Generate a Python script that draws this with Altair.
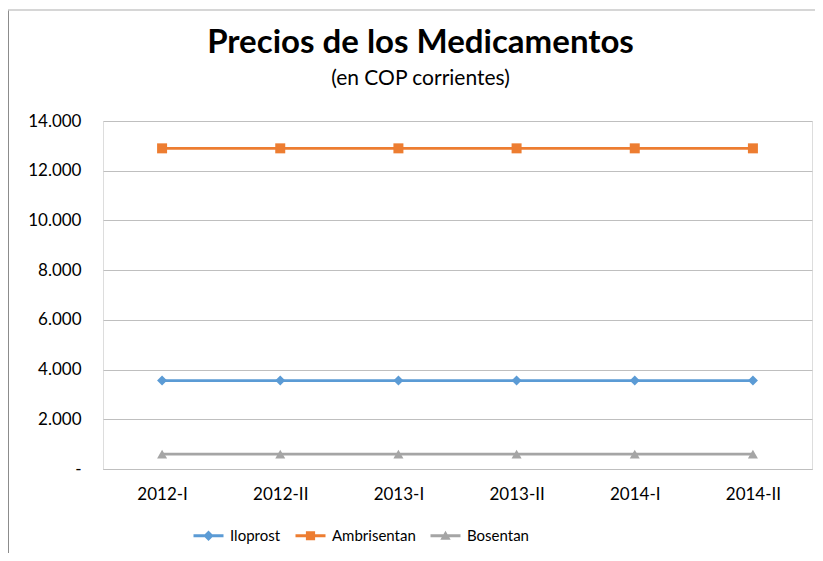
import altair as alt
import pandas as pd

periods = ["2012-I", "2012-II", "2013-I", "2013-II", "2014-I", "2014-II"]
series_names = ["Iloprost", "Ambrisentan", "Bosentan"]
iloprost = [3560, 3560, 3560, 3560, 3560, 3560]
ambrisentan = [12900, 12900, 12900, 12900, 12900, 12900]
bosentan = [600, 600, 600, 600, 600, 600]
colors = ["#5B9BD5", "#ED7D31", "#A5A5A5"]
marker_shapes = ["diamond", "square", "triangle-up"]
y_ticks = [0, 2000, 4000, 6000, 8000, 10000, 12000, 14000]

# legend symbols: line segment with marker (unit coords)
legend_paths = [
    "M-3.75,-0.35H3.75V0.35H-3.75Z M0,-1.3L1.3,0L0,1.3L-1.3,0Z",
    "M-3.75,-0.35H3.75V0.35H-3.75Z M-1.15,-1.15H1.15V1.15H-1.15Z",
    "M-3.75,-0.35H3.75V0.35H-3.75Z M0,-1.25L1.3,1.0H-1.3Z",
]

rows = []
for name, vals in zip(series_names, [iloprost, ambrisentan, bosentan]):
    for p, v in zip(periods, vals):
        rows.append({"periodo": p, "serie": name, "valor": v})
df = pd.DataFrame(rows)

FONT = "Lato"

x_enc = alt.X(
    "periodo:N",
    sort=periods,
    scale=alt.Scale(type="point", padding=0.5),
    axis=alt.Axis(
        title=None, labelAngle=0, ticks=False, domainColor="#BFBFBF",
        labelPadding=17, labelFont=FONT, labelFontSize=17, labelColor="black",
        grid=False,
    ),
)
y_enc = alt.Y(
    "valor:Q",
    scale=alt.Scale(domain=[0, 14000], nice=False),
    axis=alt.Axis(
        title=None, values=y_ticks, ticks=False, domain=False,
        gridColor="#BFBFBF", gridWidth=1,
        labelExpr="datum.value == 0 ? '-' : format(datum.value / 1000, '.3f')",
        labelPadding=22, labelFont=FONT, labelFontSize=17, labelColor="black",
    ),
)

base = alt.Chart(df)

lines = base.mark_line(strokeWidth=2.75).encode(
    x=x_enc, y=y_enc,
    color=alt.Color("serie:N", scale=alt.Scale(domain=series_names, range=colors), legend=None),
)

points = base.mark_point(filled=True, opacity=1, size=100).encode(
    x=x_enc, y=y_enc,
    color=alt.Color("serie:N", scale=alt.Scale(domain=series_names, range=colors), legend=None),
    shape=alt.Shape("serie:N", scale=alt.Scale(domain=series_names, range=marker_shapes), legend=None),
)

leg_props = dict(
    orient="none", legendX=98, legendY=407, direction="horizontal", title=None,
    symbolSize=64, symbolStrokeWidth=0, labelFont=FONT, labelFontSize=15,
    labelColor="black", labelOffset=14, columnPadding=14, padding=0,
)

legend_layer = base.transform_filter("datum.valor < 0").mark_point(filled=True, opacity=1).encode(
    color=alt.Color("serie:N", scale=alt.Scale(domain=series_names, range=colors), legend=alt.Legend(**leg_props)),
    shape=alt.Shape("serie:N", scale=alt.Scale(domain=series_names, range=legend_paths), legend=alt.Legend(**leg_props)),
)

frame_df = pd.DataFrame({"a": [0]})
frame_left = alt.Chart(frame_df).mark_rule(color="#8C8C8C", strokeWidth=1).encode(
    x=alt.value(-94.5), y=alt.value(-111), y2=alt.value(440)
)
frame_top = alt.Chart(frame_df).mark_rule(color="#C8C8C8", strokeWidth=1.5).encode(
    x=alt.value(-95), x2=alt.value(720), y=alt.value(-111)
)

chart = alt.layer(frame_left, frame_top, lines, points, legend_layer).resolve_scale(
    color="independent", shape="independent"
).resolve_legend(
    color="independent", shape="independent"
).properties(
    width=709,
    height=348,
    autosize=alt.AutoSizeParams(type="none"),
    padding={"left": 95, "top": 113, "right": 3, "bottom": 84},
    title=alt.TitleParams(
        text="Precios de los Medicamentos",
        subtitle="(en COP corrientes)",
        font=FONT, fontSize=33, fontWeight="bold", color="black",
        subtitleFont=FONT, subtitleFontSize=21, subtitleColor="black",
        anchor="middle", dx=-37, offset=-80, subtitlePadding=8,
    ),
).configure_view(stroke=None).configure(background="white")

chart.save("out.html", embed_options={"renderer": "svg", "actions": False})
